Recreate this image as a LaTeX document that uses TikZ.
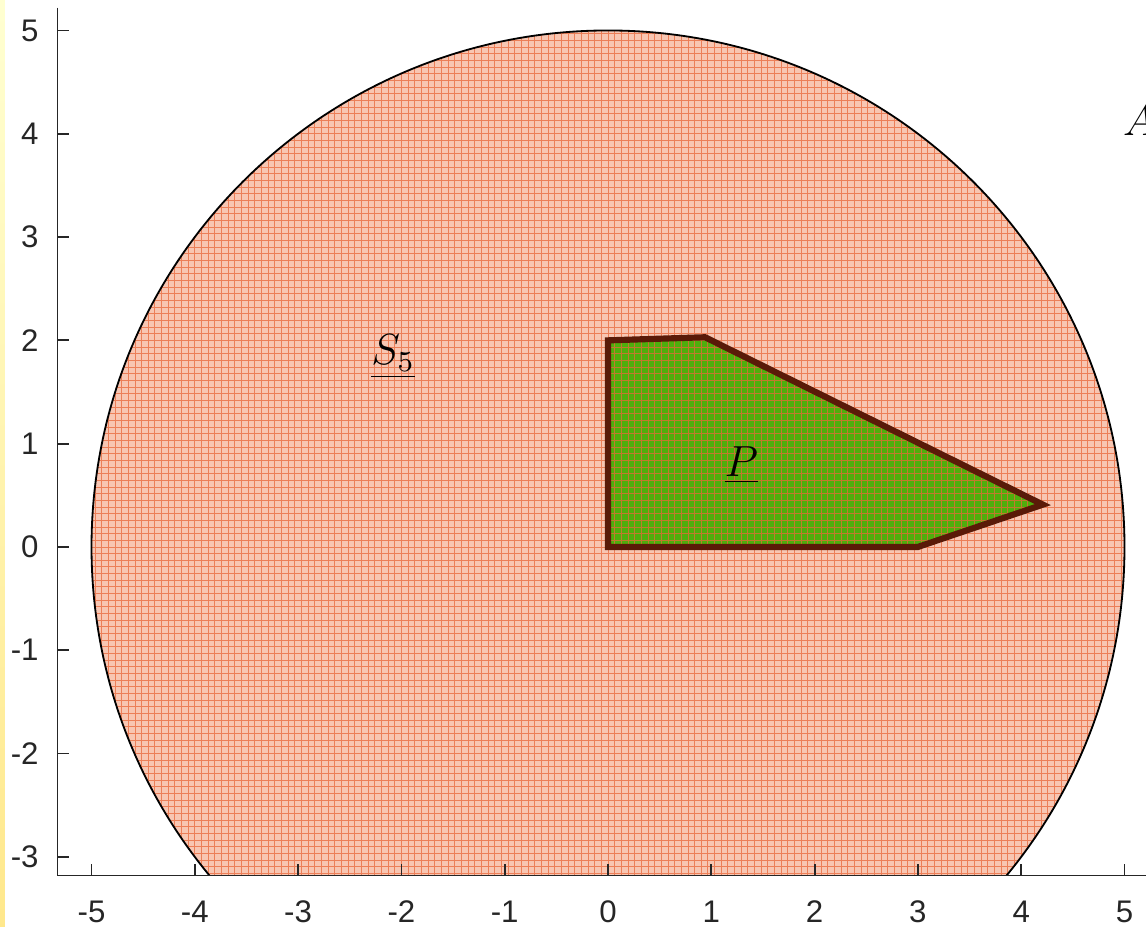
\documentclass[tikz,border=0pt]{standalone}
\usepackage{fontspec}
\setsansfont{Liberation Sans}
\usepackage{tikz}
\usetikzlibrary{positioning}

\definecolor{meshfill}{HTML}{F8C6B2}
\definecolor{meshline}{HTML}{E8683A}
\definecolor{polyfill}{HTML}{4EAE0C}
\definecolor{polyedge}{HTML}{5A1A08}
\definecolor{axisgray}{HTML}{262626}

\begin{document}
\begin{tikzpicture}[
  tick/.style={axisgray, line width=0.5pt},
  ticklabel/.style={font=\sffamily\fontsize{8.6}{10}\selectfont, text=axisgray, inner sep=1pt},
  setlabel/.style={font=\large, inner sep=0pt},
]
\useasboundingbox (-5.886,-3.679) rectangle (5.208,5.295);

% side strip
\shade[top color=yellow!18, bottom color=orange!40!yellow!45, draw=none]
  (-5.886,-3.679) rectangle (-5.838,5.295);

\begin{scope}
\clip (-5.33,-3.18) rectangle (5.3,5.3);

% Disc S_5 with its mesh
\fill[meshfill] (0,0) circle (5);
% Polygon P
\fill[polyfill] (0,0) -- (0,2) -- (0.94,2.03) -- (4.21,0.41) -- (3,0) -- cycle;
\begin{scope}
  \clip (0,0) circle (5);
  \draw[meshline, line width=0.25pt, opacity=0.75, step=0.0645] (-5,-5) grid (5,5);
\end{scope}
\draw[polyedge, line width=1.7pt, line join=miter]
  (0,0) -- (0,2) -- (0.94,2.03) -- (4.21,0.41) -- (3,0) -- cycle;
\draw[black, line width=0.5pt] (0,0) circle (5);
\end{scope}

% Labels
\node[setlabel] (S) at (-2.08,1.84) {$\underline{S_5}$};
\node[setlabel] (P) at (1.29,0.79) {$\underline{P}$};
\node[setlabel, anchor=west] (A) at (4.98,4.13) {$A$};

% Axes
\draw[tick] (-5.33,5.22) -- (-5.33,-3.18) -- (5.208,-3.18);
\foreach \x in {-5,...,5}{
  \draw[tick] (\x,-3.18) -- ++(0,0.11);
  \node[ticklabel] (xl\x) at (\x,-3.53) {\x};
}
\foreach \y in {-3,...,5}{
  \draw[tick] (-5.33,\y) -- ++(0.11,0);
  \node[ticklabel, anchor=east] (yl\y) at (-5.47,\y) {\y};
}
\end{tikzpicture}
\end{document}
